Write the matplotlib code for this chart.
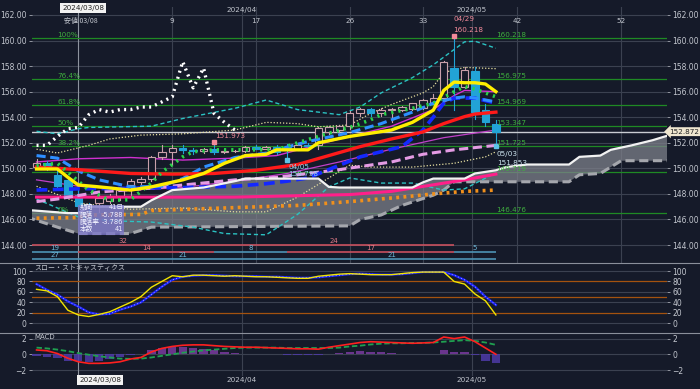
import matplotlib
matplotlib.use('Agg')
import matplotlib.pyplot as plt
from matplotlib.patches import Rectangle

plt.rcParams['font.family'] = ['DejaVu Sans', 'Noto Sans CJK JP']

# ---------------- data ----------------
bars = list(range(-4, 41))
opens  = [150.10,150.45,149.50,149.10,147.90,147.05,147.30,147.45,147.80,148.70,148.90,149.15,150.85,151.25,
          151.60,151.40,151.35,151.50,151.30,151.35,151.35,151.65,151.55,151.65,151.65,151.45,151.85,151.80,
          152.85,153.00,153.30,154.30,154.65,154.35,154.55,154.65,154.75,155.00,155.50,157.85,156.40,157.60,
          154.60,153.50][:0]
# OHLC per bar (i = -4 .. 40)
o = [150.10,150.45,149.50,149.10,147.90,147.05,147.30,147.45,147.80,148.70,148.90,149.15,150.85,151.25,
     151.60,151.40,151.35,151.50,151.30,151.35,151.35,151.65,151.55,151.65,151.65,151.45,151.85,151.80,
     152.85,153.00,153.30,154.30,154.65,154.35,154.55,154.60,154.65,154.75,155.00,155.50,157.85,156.40,
     157.60,154.60,153.50]
h = [150.70,150.55,150.00,149.20,148.20,147.30,147.90,148.00,148.40,149.20,149.30,151.00,151.80,151.85,
     151.85,151.60,151.60,151.97,151.50,151.45,151.75,151.80,151.75,151.80,151.90,151.95,151.95,153.25,
     153.30,153.40,154.45,154.75,154.75,154.70,154.70,154.90,155.10,155.40,155.80,158.40,160.218,157.90,
     157.95,155.00,153.80]
l = [149.95,149.85,148.50,147.70,146.48,146.50,146.60,147.30,147.50,147.90,148.80,149.05,150.70,150.30,
     151.20,151.10,151.20,151.10,151.20,151.25,151.30,151.50,151.50,151.15,150.80,151.40,151.60,151.55,
     152.70,152.60,153.10,154.10,154.10,154.10,153.60,154.50,154.60,154.65,155.00,155.00,154.60,156.30,
     153.90,153.30,151.853]
c = [150.45,150.05,148.60,147.80,147.05,146.95,147.70,147.80,148.30,149.05,149.15,150.85,151.25,151.60,
     151.40,151.35,151.50,151.30,151.35,151.35,151.65,151.55,151.65,151.30,151.45,151.85,151.75,153.15,
     153.25,153.30,154.30,154.65,154.35,154.60,154.65,154.80,155.10,155.35,155.50,158.35,156.40,157.70,
     154.40,153.60,152.872]

# moving averages / bands (bar index, value)
red_x = [-4,0,5,9,13,17,21,24,27,30,33,35,37,38,40]
red_y = [150.1,149.9,149.6,149.55,149.6,149.85,150.3,151.0,151.7,152.3,152.85,153.5,154.05,154.25,154.4]
yel_x = [-4,-2,-1,0,2,5,7,10,12,14,16,18,19,22,23,26,30,32,34,35,36,37,38,39,40]
yel_y = [149.95,149.95,149.3,148.7,148.55,148.3,148.55,149.1,149.6,150.4,151.0,151.1,151.45,151.45,152.0,
         152.5,153.0,153.6,154.55,156.1,156.75,156.7,156.7,156.6,156.0]
dod_x = [-4,-2,0,2,5,8,10,12,15,18,19,22,26,29,32,34,36,37,38,40]
dod_y = [151.0,150.8,149.8,149.1,148.55,148.6,149.2,150.1,150.85,151.2,151.45,152.1,152.8,153.5,154.4,
         155.1,155.5,155.6,155.5,155.2]
blu_x = [-4,0,5,10,15,18,20,22,27,31,33,34,35,36,38,40]
blu_y = [148.3,148.4,148.45,148.5,148.6,148.8,149.0,149.25,150.9,151.7,153.0,154.0,155.1,155.5,155.5,155.1]
grn_x = [-4,-2,1,3,5,7,8,10,11,13,16,19,21,24,26,28,29,32,34,36,37,38,40]
grn_y = [150.2,150.4,148.3,147.5,147.55,148.85,149.7,150.9,151.3,151.45,151.45,151.45,152.0,152.75,153.2,
         153.8,154.2,154.7,155.1,156.0,156.4,156.2,155.6]
mag1_x = [-4,0,5,10,15,19,25,30,34,36,37,40]
mag1_y = [150.5,150.75,150.85,150.65,150.8,151.0,152.3,153.3,154.6,155.7,156.1,156.0]
mag2_x = [-4,0,5,10,15,20,25,30,35,40]
mag2_y = [149.1,148.6,148.3,148.5,149.0,149.6,150.5,151.5,152.4,153.0]
plum_x = [-4,-2,2,7,15,19,25,30,33,36,40]
plum_y = [147.4,147.6,148.15,148.45,149.1,149.3,149.9,150.5,151.1,151.45,151.8]
pink_x = [-4,15,26,30,37,40]
pink_y = [147.75,147.75,147.95,148.2,149.1,149.55]
org_x = [-4,0,1,6,7,14,21,26,31,34,37,40]
org_y = [146.1,146.15,146.35,146.4,146.7,146.9,147.1,147.4,147.75,148.0,148.2,148.3]
s1u_x = [-4,-2,1,3,6,10,15,18,21,23,26,28,30,33,34,35,37,40]
s1u_y = [151.5,151.2,151.8,152.3,152.6,152.7,153.0,153.6,153.5,153.25,153.4,154.3,155.0,155.9,156.4,
         157.5,157.9,157.8]
s1l_x = [-4,0,5,10,15,18,21,24,26,28,32,36,39,40]
s1l_y = [148.6,147.3,146.8,146.9,146.6,146.6,147.75,149.25,150.25,150.1,150.1,150.4,150.9,151.3]
cyu_x = [-4,-2,0,1,7,10,15,18,21,25,27,29,32,34,36,37,38,40]
cyu_y = [152.9,152.7,153.1,153.2,153.3,153.9,154.7,155.35,154.6,154.2,154.8,155.9,157.1,158.1,159.3,
         159.9,159.95,159.4]
cyl_x = [-4,-2,0,3,7,11,14,18,21,24,26,29,32,35,37,40]
cyl_y = [147.6,146.9,146.2,145.9,145.8,145.4,144.9,144.8,146.4,148.55,149.25,148.85,148.85,148.3,148.4,149.65]

# ichimoku
spa_x = [-5,-1,0,1,6,7,9,12,15,16,23,24,25,32,33,34,37,38,40,41,43,47,48,50,51,53,55,57]
spa_y = [146.75,146.5,146.5,147.0,147.0,147.5,148.3,148.5,149.0,149.2,149.2,148.55,148.5,148.5,148.9,
         149.2,149.2,149.6,149.85,150.1,150.3,150.3,150.9,151.0,151.45,151.8,152.2,152.7]
spb_x = [-5,-2,0,5,7,26,27,29,31,34,35,36,47,48,50,51,52,57]
spb_y = [146.2,145.4,144.9,144.9,145.4,145.5,146.0,146.35,147.1,147.9,148.3,148.95,148.95,149.5,149.6,
         150.1,150.6,150.6]
chk_x = list(range(-4, 16))
chk_y = [151.8,151.8,152.5,153.1,153.2,154.2,154.6,154.4,154.6,154.6,154.8,154.8,155.2,155.6,158.35,
         156.3,157.85,154.3,153.6,153.0]

# fibonacci
fib_pct = ['100%', '76.4%', '61.8%', '50%', '38.2%', '23.6%', '0%']
fib_val = [160.218, 156.975, 154.969, 153.347, 151.725, 149.719, 146.476]

# stochastics / macd
stk = [65,62,51,25,16,13,17,22,31,40,51,69,80,91,89,92,92,91,90,91,90,89,89,88,87,86,86,90,92,94,95,94,93,
       93,93,95,97,98,98,98,80,75,56,43,16]
std = [75,64,55,42,32,21,17,18,26,32,40,55,70,83,89,91,92,92,91,90,90,90,89,89,88,87,87,88,90,92,94,95,94,
       93,93,94,96,98,98,98,92,83,70,51,35]
macd = [0.55,0.45,0.1,-0.5,-0.95,-1.15,-1.15,-1.1,-0.95,-0.6,-0.4,0.3,0.75,1.0,1.15,1.2,1.2,1.1,1.0,0.95,
        0.9,0.9,0.85,0.8,0.75,0.7,0.7,0.65,0.9,1.1,1.3,1.5,1.6,1.55,1.5,1.45,1.4,1.45,1.5,2.2,2.0,2.2,1.6,0.8,0.0]
sig = [0.85,0.75,0.6,0.4,0.15,-0.05,-0.25,-0.4,-0.55,-0.58,-0.55,-0.4,-0.2,0.0,0.2,0.35,0.5,0.6,0.7,0.8,
       0.85,0.85,0.85,0.85,0.8,0.8,0.8,0.8,0.8,0.85,1.0,1.1,1.25,1.35,1.4,1.4,1.45,1.45,1.5,1.6,1.7,1.8,1.7,1.5,1.2]
hist = [-0.25,-0.3,-0.5,-0.8,-0.9,-0.95,-0.85,-0.6,-0.35,-0.1,0.1,0.6,0.8,0.9,0.9,0.8,0.65,0.5,0.35,0.2,
        0.1,0.05,0.02,0.0,-0.03,-0.05,-0.05,-0.1,0.05,0.2,0.35,0.4,0.35,0.25,0.2,0.08,0.05,0.05,0.1,0.55,
        0.3,0.35,-0.1,-0.8,-1.1]

# swing count rows: (start bar, end bar, label, colour key)
row1 = [(-4.5, 13, '32', 'r'), (13, 36, '24', 'r')]
row2 = [(-4.5, 0, '19', 'b'), (0, 13, '14', 'r'), (13, 20, '8', 'b'), (20, 36, '17', 'r'), (36, 40, '5', 'b')]
row3 = [(-4.5, 0, '27', 'b'), (0, 20, '21', 'b'), (20, 40, '21', 'b')]
row_vals = [144.0, 143.45, 142.9]

main_ticks = [144, 146, 148, 150, 152, 154, 156, 158, 160, 162]
top_counts = [(9, '9'), (17, '17'), (26, '26'), (33, '33'), (42, '42'), (52, '52')]
month_lines = [(15.65, '2024/04'), (37.68, '2024/05')]
last_price = 152.872

# ---------------- style ----------------
BG = '#151a29'
GRID = '#3b4150'
TXT = '#c3c7cf'
W, H = 700, 389
X0, DX = 78.3, 10.44
def bx(px):
    return (px - X0) / DX
XL = (bx(32), bx(667))

fig = plt.figure(figsize=(7, 3.89), dpi=100, facecolor=BG)

def ax_px(x0, y0, x1, y1):
    a = fig.add_axes([x0 / W, 1 - y1 / H, (x1 - x0) / W, (y1 - y0) / H])
    a.set_facecolor(BG)
    for s in a.spines.values():
        s.set_visible(False)
    a.set_xlim(*XL)
    a.tick_params(axis='x', bottom=False, labelbottom=False)
    a.tick_params(axis='y', left=True, right=True, labelleft=True, labelright=True,
                  labelsize=5.5, colors=TXT, length=2, width=0.5, pad=2)
    return a

ax = ax_px(32, 7, 667, 263)
axs = ax_px(32, 263, 667, 333)
axm = ax_px(32, 333, 667, 376)

ymain = (162 - (263 - 15) / 12.78, 162 + 8 / 12.78)
ax.set_ylim(*ymain)
ax.set_yticks(main_ticks)
ax.set_yticklabels(['%.2f' % v for v in main_ticks])
for v in main_ticks:
    ax.axhline(v, color=GRID, lw=0.8, zorder=0)

# vertical lines
for a in (ax, axs, axm):
    a.axvline(0, color='#8d939e', lw=0.8, zorder=0.5)
    for mx, _ in month_lines:
        a.axvline(mx, color=GRID, lw=0.8, zorder=0.5)
for xi, _ in top_counts:
    ax.axvline(xi, color=GRID, lw=0.8, zorder=0.5)

# fib lines
for p, v in zip(fib_pct, fib_val):
    ax.axhline(v, color='#1f8a24', lw=0.9, zorder=1)
    ax.text(40.05, v + 0.08, '%.3f' % v, color='#3fae3f', fontsize=5.2, zorder=8)
    if p != '23.6%':
        ax.text(-2.0, v + 0.08, p, color='#3fae3f', fontsize=5.2, zorder=8)

# price line
ax.axhline(last_price, color='#c9ccd2', lw=1.0, zorder=1.2)

# ichimoku cloud
ax.fill(spa_x + spb_x[::-1], spa_y + spb_y[::-1], color='#7d808a', alpha=0.75, lw=0, zorder=1.5)
ax.plot(spb_x, spb_y, color='#a5a7ad', lw=2.2, ls=(0, (3, 1.5)), zorder=1.6)
ax.plot(spa_x, spa_y, color='#f2f2f2', lw=1.6, zorder=4.5)

# bands
ax.plot(cyu_x, cyu_y, color='#2bc2c2', lw=1.0, ls=(0, (3, 2)), zorder=2)
ax.plot(cyl_x, cyl_y, color='#2bc2c2', lw=1.0, ls=(0, (3, 2)), zorder=2)
ax.plot(s1u_x, s1u_y, color='#e6dfa0', lw=0.9, ls=(0, (1, 1.5)), zorder=2)
ax.plot(s1l_x, s1l_y, color='#e6dfa0', lw=0.9, ls=(0, (1, 1.5)), zorder=2)
ax.plot(mag1_x, mag1_y, color='#d030d0', lw=1.0, zorder=2)
ax.plot(mag2_x, mag2_y, color='#c040c8', lw=0.9, zorder=2)

# candles
for i, oo, hh, ll, cc in zip(bars, o, h, l, c):
    up = cc >= oo
    col = '#c9a0aa' if up else '#22a3d6'
    ax.plot([i, i], [ll, hh], color=col, lw=0.8, zorder=3)
    ax.add_patch(Rectangle((i - 0.36, min(oo, cc)), 0.72, max(abs(cc - oo), 0.03),
                           facecolor=BG if up else '#22a3d6', edgecolor=col, lw=0.8, zorder=3.1))

# averages
ax.plot(org_x, org_y, color='#f0901c', lw=2.6, ls=(0, (0.8, 1.2)), zorder=4)
ax.plot(pink_x, pink_y, color='#ff1f8a', lw=2.2, zorder=4)
ax.plot(plum_x, plum_y, color='#e49be4', lw=2.2, ls=(0, (3, 1.5)), zorder=4)
ax.plot(blu_x, blu_y, color='#1428ff', lw=2.6, ls=(0, (3, 1.5)), zorder=4.2)
ax.plot(dod_x, dod_y, color='#2e8fff', lw=2.2, ls=(0, (3, 1.5)), zorder=4.3)
ax.plot(red_x, red_y, color='#ff1a1a', lw=2.4, zorder=4.4)
ax.plot(grn_x, grn_y, color='#2ad24a', lw=2.6, ls=(0, (0.6, 1.4)), zorder=4.6)
ax.plot(yel_x, yel_y, color='#ffee00', lw=2.4, zorder=4.7)
ax.plot(chk_x, chk_y, color='#ffffff', lw=2.4, ls=(0, (0.6, 1.3)), zorder=4.8)

# high / low markers
ax.plot([36], [160.218 + 0.12], 's', ms=3, color='#f28a9a', zorder=6)
ax.text(35.9, 161.5, '04/29', color='#f28a9a', fontsize=5.2, zorder=8)
ax.text(35.9, 160.7, '160.218', color='#f28a9a', fontsize=5.2, zorder=8)
ax.plot([13], [151.973 + 0.12], 's', ms=3, color='#f28a9a', zorder=6)
ax.text(13.1, 152.35, '151.973', color='#f28a9a', fontsize=5.2, zorder=8)
ax.plot([20], [150.80 - 0.12], 's', ms=3, color='#5cc4e6', zorder=6)
ax.text(20.1, 149.95, '04/05', color='#8fd0ea', fontsize=5.2, zorder=8)
ax.text(20.1, 149.4, '150.798', color='#8fd0ea', fontsize=5.2, zorder=8)
ax.plot([40], [151.853 - 0.12], 's', ms=3, color='#5cc4e6', zorder=6)
ax.text(40.1, 150.95, '05/03', color='#cfe6f0', fontsize=5.2, zorder=8)
ax.text(40.1, 150.3, '151.853', color='#cfe6f0', fontsize=5.2, zorder=8)

# swing rows
rc = {'r': '#c8505e', 'b': '#4d93b4'}
tc = {'r': '#e07a86', 'b': '#6fb8d8'}
for yv, row in zip(row_vals, [row1, row2, row3]):
    for s, e, lab, k in row:
        ax.plot([s, e], [yv, yv], color=rc[k], lw=1.2, zorder=5, solid_capstyle='butt')
        ax.text((s + e) / 2, yv + 0.05, lab, color=tc[k], fontsize=5.0, ha='center', va='bottom', zorder=8)

# info box
ax.add_patch(Rectangle((0.0, 144.8), 4.4, 2.35, facecolor='#7d78c8', alpha=0.8, lw=0, zorder=7))
info = [('期間', '41日'), ('騰落', '-5.788'), ('騰落率', '-3.786'), ('本数', '41')]
for k, (a_, b_) in enumerate(info):
    yy = 146.95 - k * 0.57
    ax.text(0.15, yy, a_, color='#f0f0ff', fontsize=4.8, va='center', zorder=8,
            family=['Noto Sans CJK JP', 'DejaVu Sans'])
    ax.text(4.3, yy, b_, color='#f0f0ff', fontsize=4.8, va='center', ha='right', zorder=8)

ax.text(-1.35, 161.5, '安値 03/08', color=TXT, fontsize=5.0, va='center', zorder=8,
        family=['Noto Sans CJK JP', 'DejaVu Sans'])
for xi, lab in top_counts:
    ax.text(xi, 161.5, lab, color=TXT, fontsize=5.2, ha='center', va='center', zorder=8)

# ---------------- stochastics ----------------
axs.set_ylim(-18.5, 115.3)
axs.set_yticks([0, 20, 40, 60, 80, 100])
for v in [0, 40, 60, 100]:
    axs.axhline(v, color=GRID, lw=0.8, zorder=0)
for v in [20, 50, 80]:
    axs.axhline(v, color='#a4520f', lw=0.9, zorder=0.6)
axs.plot(bars, std, color='#1a22ff', lw=1.6, zorder=3)
axs.plot(bars, std, color='#c8c8ff', lw=0.6, ls=(0, (1, 3)), zorder=3.1)
axs.plot(bars, stk, color='#f2e400', lw=1.0, zorder=3.2)
axs.text(-4.2, 106, 'スロー・ストキャスティクス', color=TXT, fontsize=5.0, va='center',
         family=['Noto Sans CJK JP', 'DejaVu Sans'])

# ---------------- macd ----------------
axm.set_ylim(-2.76, 2.71)
axm.set_yticks([-2, 0, 2])
for v in [-2, 0, 2]:
    axm.axhline(v, color=GRID, lw=0.8, zorder=0)
axm.bar(bars, hist, width=0.8, color=['#7a3aa0' if v >= 0 else '#4e3aa8' for v in hist],
        alpha=0.85, zorder=2)
axm.plot(bars, sig, color='#1fa050', lw=1.3, ls=(0, (3, 1.5)), zorder=3)
axm.plot(bars, macd, color='#ff2020', lw=1.2, zorder=3.1)
axm.text(-4.2, 2.2, 'MACD', color=TXT, fontsize=5.0, va='center')

# ---------------- frame lines & date labels ----------------
for ypx in (263, 333):
    fig.add_artist(plt.Line2D([0, 1], [1 - ypx / H, 1 - ypx / H], color='#8a8f9a', lw=0.8))

fig.text(62 / W, 1 - 8 / H, '2024/03/08', fontsize=5.2, color='#222', va='center', ha='left',
         bbox=dict(boxstyle='square,pad=0.25', fc='#f2f2f2', ec='none'))
fig.text(79 / W, 1 - 380 / H, '2024/03/08', fontsize=5.2, color='#222', va='center', ha='left',
         bbox=dict(boxstyle='square,pad=0.25', fc='#f2f2f2', ec='none'))
for mx, lab in month_lines:
    xp = X0 + DX * mx
    fig.text(xp / W, 1 - 10 / H, lab, fontsize=5.2, color=TXT, ha='center', va='center')
    fig.text(xp / W, 1 - 380 / H, lab, fontsize=5.2, color=TXT, ha='center', va='center')

# price tag
fig.text(669 / W, 1 - (15 + (162 - last_price) * 12.78) / H, '152.872', fontsize=5.2, color='#222',
         va='center', ha='left', bbox=dict(boxstyle='larrow,pad=0.2', fc='#efe6cf', ec='none'))

fig.savefig('out.png', dpi=100, facecolor=BG)
